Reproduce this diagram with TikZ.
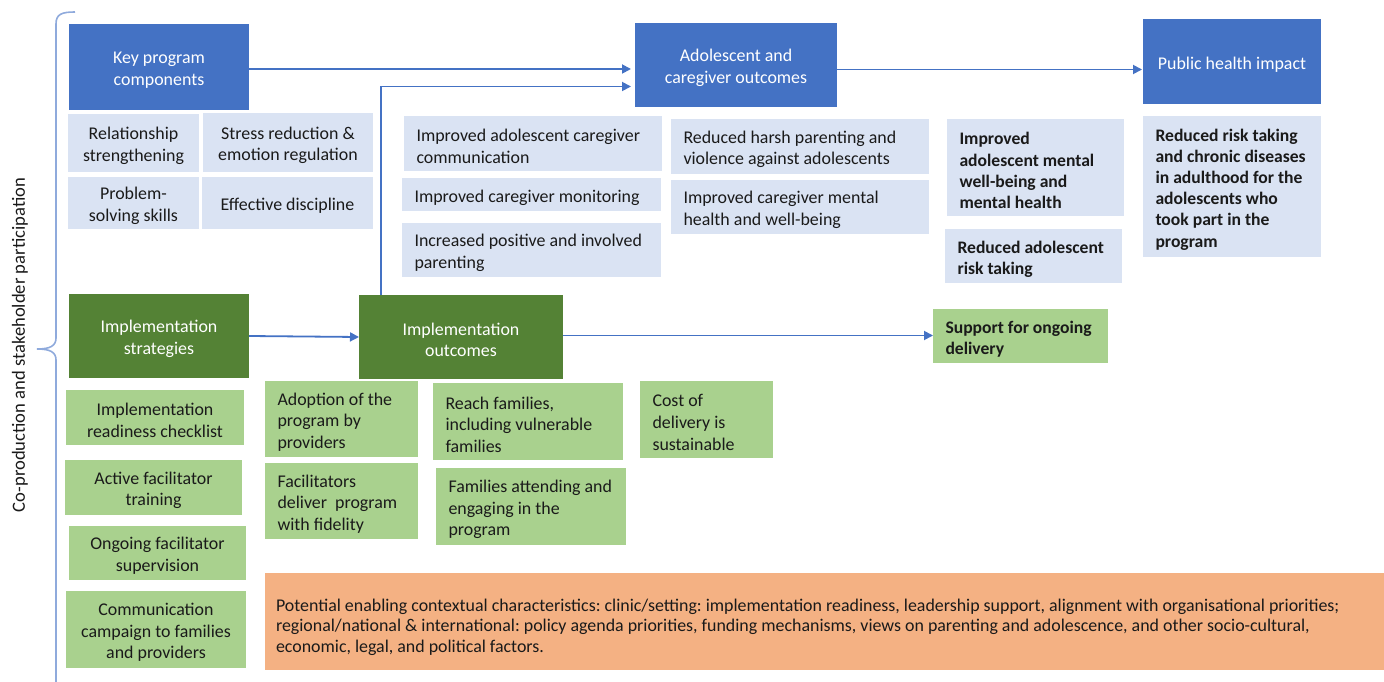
\documentclass[tikz,border=0pt]{standalone}
\usepackage{fontspec}
\setmainfont{Carlito}
\usetikzlibrary{arrows.meta,fit}
\definecolor{hblue}{HTML}{4472C4}
\definecolor{lblue}{HTML}{DAE3F3}
\definecolor{dgreen}{HTML}{548235}
\definecolor{lgreen}{HTML}{A9D18E}
\definecolor{orng}{HTML}{F4B183}
\definecolor{brc}{HTML}{8FAADC}
\definecolor{txt}{HTML}{1A1A1A}
\tikzset{
  boxb/.style={inner sep=0pt, outer sep=0pt, draw=none},
  hdr/.style={boxb, fill=hblue},
  hdrg/.style={boxb, fill=dgreen},
  lb/.style={boxb, fill=lblue},
  lg/.style={boxb, fill=lgreen},
  og/.style={boxb, fill=orng},
  txtn/.style={inner sep=0pt, outer sep=0pt, text=txt, yshift=-3pt,
    font=\fontsize{17.9}{21.6}\selectfont},
  wht/.style={text=white},
  bld/.style={font=\fontsize{17.6}{21.2}\selectfont\bfseries},
  arr/.style={draw=hblue, line width=1.8pt, -{Triangle[length=9pt,width=9pt]}},
}
% centred box: style, name, corner, corner, text-style, text
\newcommand\cbox[6]{\node[#1, fit={#3 #4}] (#2) {};
  \node[txtn, #5, align=center] (#2-t) at (#2.center) {#6};}
% left aligned box
\newcommand\lbox[6]{\node[#1, fit={#3 #4}] (#2) {};
  \node[txtn, #5, align=left, anchor=west] (#2-t) at ([xshift=12.5pt]#2.west) {#6};}
\begin{document}
\begin{tikzpicture}[x=1pt,y=-1pt]
\useasboundingbox (0,0) rectangle (1384,682);
% brace
\draw[brc, line width=1.6pt] (75,12) .. controls (62,12) and (56,14) .. (56,24) -- (56,338)
  .. controls (56,346) and (50,349) .. (37,349) .. controls (50,349) and (56,352) .. (56,360) -- (56,682);
\node[inner sep=0pt, rotate=90, text=txt, font=\fontsize{18.6}{22}\selectfont] (lab) at (20,345) {Co-production and stakeholder participation};
% headers
\cbox{hdr}{kpc}{(69,24)}{(249,110)}{wht}{Key program\\components}
\cbox{hdr}{aco}{(635,23)}{(837,107)}{wht}{Adolescent and\\caregiver outcomes}
\cbox{hdr}{phi}{(1143,19)}{(1321,104)}{wht}{Public health impact}
% key program components
\cbox{lb}{rs}{(68,114)}{(199,172)}{}{Relationship\\strengthening}
\cbox{lb}{sr}{(203,113)}{(373,172)}{}{Stress reduction \&\\emotion regulation}
\cbox{lb}{ps}{(68,177)}{(199,229)}{}{Problem-\\solving skills}
\cbox{lb}{ed}{(202,177)}{(373,229)}{}{Effective discipline}
% adolescent and caregiver outcomes
\lbox{lb}{iacc}{(404,116)}{(662,171)}{}{Improved adolescent caregiver\\communication}
\lbox{lb}{icm}{(402,178)}{(661,211)}{}{Improved caregiver monitoring}
\lbox{lb}{ipi}{(402,223)}{(661,277)}{}{Increased positive and involved\\parenting}
\lbox{lb}{rhp}{(671,119)}{(929,174)}{}{Reduced harsh parenting and\\violence against adolescents}
\lbox{lb}{icmh}{(671,180)}{(929,234)}{}{Improved caregiver mental\\health and well-being}
\lbox{lb}{iamw}{(947,119)}{(1124,216)}{bld}{Improved\\adolescent mental\\well-being and\\mental health}
\lbox{lb}{rart}{(945,229)}{(1122,283)}{bld}{Reduced adolescent\\risk taking}
\lbox{lb}{rrtc}{(1143,116)}{(1321,257)}{bld}{Reduced risk taking\\and chronic diseases\\in adulthood for the\\adolescents who\\took part in the\\program}
% implementation
\cbox{hdrg}{is}{(69,294)}{(249,378)}{wht}{Implementation\\strategies}
\cbox{hdrg}{io}{(359,295)}{(563,379)}{wht}{Implementation\\outcomes}
\cbox{lg}{irc}{(66,390)}{(244,445)}{}{Implementation\\readiness checklist}
\cbox{lg}{aft}{(65,460)}{(242,515)}{}{Active facilitator\\training}
\cbox{lg}{ofs}{(69,526)}{(246,580)}{}{Ongoing facilitator\\supervision}
\cbox{lg}{ccf}{(66,591)}{(246,668)}{}{Communication\\campaign to families\\and providers}
\lbox{lg}{apb}{(265,381)}{(418,457)}{}{Adoption of the\\program by\\providers}
\lbox{lg}{fdp}{(265,463)}{(418,539)}{}{Facilitators\\deliver\ \ program\\with fidelity}
\lbox{lg}{rfv}{(433,383)}{(623,460)}{}{Reach families,\\including vulnerable\\families}
\lbox{lg}{fae}{(436,468)}{(626,545)}{}{Families attending and\\engaging in the\\program}
\lbox{lg}{cds}{(640,381)}{(773,458)}{}{Cost of\\delivery is\\sustainable}
\lbox{lg}{sod}{(933,309)}{(1108,363)}{bld}{Support for ongoing\\delivery}
% context
\node[og, fit={(265,573) (1384,670)}] (ctx) {};
\node[inner sep=0pt, outer sep=0pt, text=txt, align=left, anchor=west, yshift=-5.5pt,
  font=\fontsize{17.9}{20.5}\selectfont\frenchspacing] (ctx-t) at ([xshift=11pt]ctx.west)
  {Potential enabling contextual characteristics: clinic/setting: implementation readiness, leadership support, alignment with organisational priorities;\\regional/national \& international: policy agenda priorities, funding mechanisms, views on parenting and adolescence, and other socio-cultural,\\economic, legal, and political factors.};
% arrows
\draw[arr, shorten >=4pt] ([yshift=-2pt]kpc.east) -- ([yshift=-2pt]kpc.east -| aco.west);
\draw[arr, shorten >=4pt] ([xshift=22pt]io.north west) |- ([yshift=-21.5pt]aco.west);
\draw[arr, shorten >=1pt] ([yshift=-4.5pt]aco.east) -- ([yshift=-4.5pt]aco.east -| phi.west);
\draw[arr] (is.east) -- (io.west);
\draw[arr] ([yshift=1.5pt]io.east) -- ([yshift=1.5pt]io.east -| sod.west);
\end{tikzpicture}
\end{document}
